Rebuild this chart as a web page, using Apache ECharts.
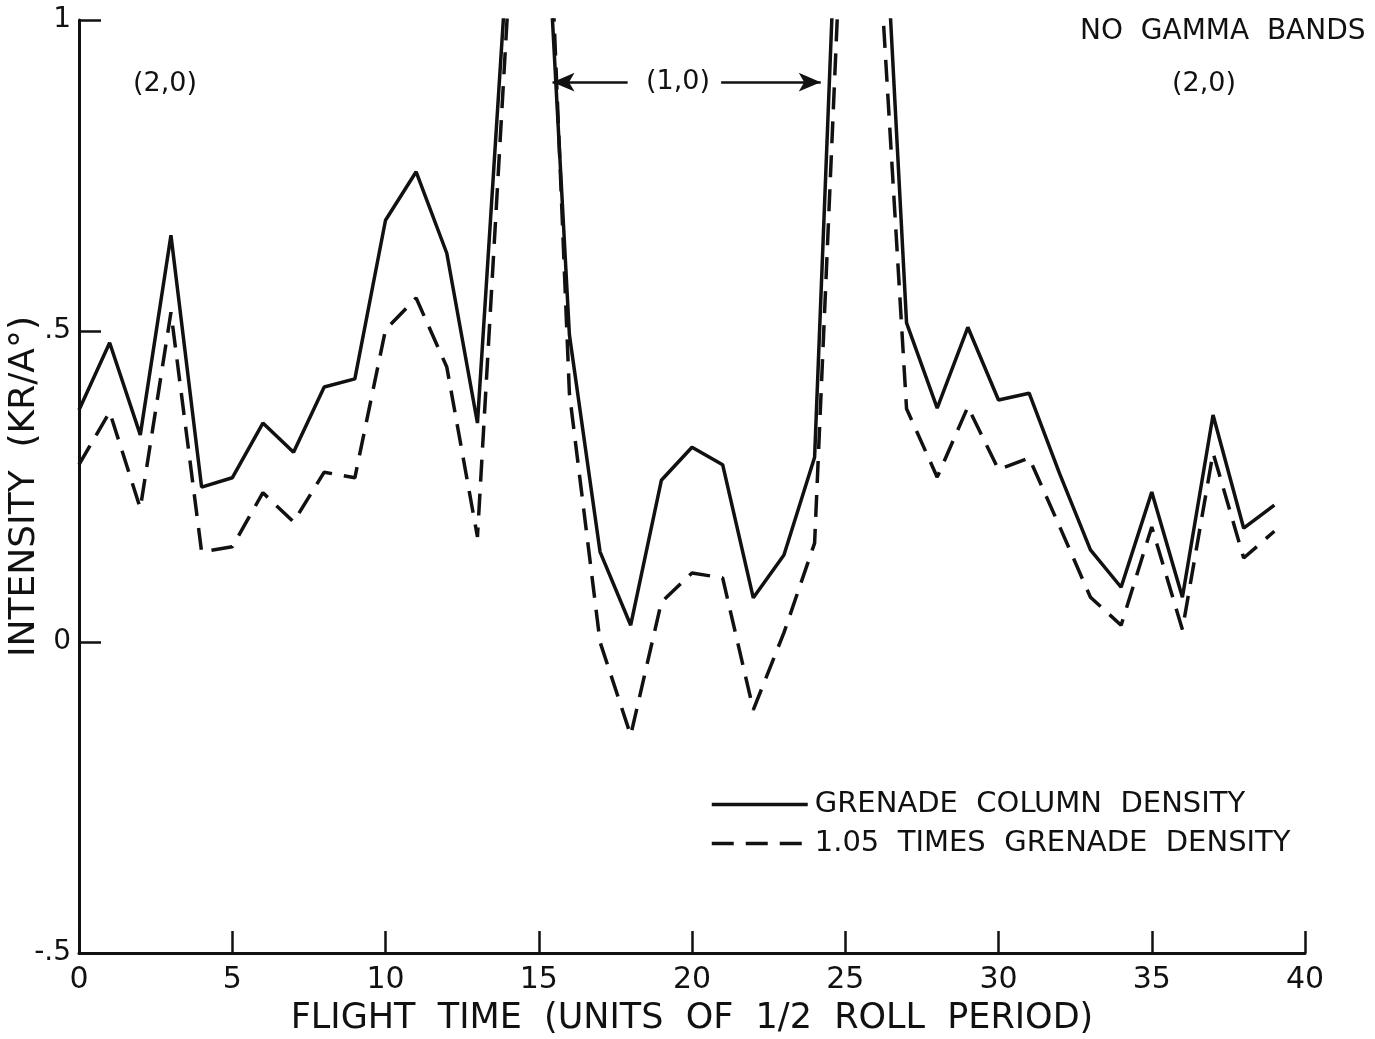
<!DOCTYPE html>
<html>
<head>
<meta charset="utf-8">
<script src="https://cdn.jsdelivr.net/npm/echarts@6/dist/echarts.min.js"></script>
<style>
html,body{margin:0;padding:0;background:#fff;}
#chart{width:1375px;height:1039px;}
</style>
</head>
<body>
<div id="chart"></div>
<script>
// flight time index (units of 1/2 roll period)
const flightTime = [0,1,2,3,4,5,6,7,8,9,10,11,12,13,14,15,16,17,18,19,20,21,22,23,24,25,26,27,28,29,30,31,32,33,34,35,36,37,38,39];
// grenade column density (solid)
const grenadeColumn = [0.373,0.481,0.333,0.654,0.249,0.264,0.352,0.305,0.41,0.423,0.678,0.756,0.625,0.352,1.12,1.41,0.494,0.145,0.027,0.26,0.313,0.285,0.071,0.14,0.297,1.55,1.45,0.513,0.376,0.506,0.389,0.4,0.27,0.148,0.088,0.241,0.072,0.365,0.183,0.22];
// 1.05 times grenade density (dashed)
const grenade105 = [0.285,0.37,0.215,0.53,0.145,0.153,0.24,0.193,0.273,0.264,0.502,0.553,0.442,0.169,1.03,1.6,0.40,0.0,-0.15,0.064,0.111,0.103,-0.109,0.015,0.159,1.3,1.2,0.375,0.265,0.378,0.277,0.296,0.185,0.072,0.027,0.185,0.02,0.304,0.135,0.178];
const yTickValues = [-0.5, 0, 0.5, 1];
const yTickLabels = ['-.5', '0', '.5', '1'];
const seriesNames = ['GRENADE  COLUMN  DENSITY', '1.05  TIMES  GRENADE  DENSITY'];

const ink = '#111';
const font = '"DejaVu Sans", "Liberation Sans", Arial, sans-serif';

const chart = echarts.init(document.getElementById('chart'));
const toPairs = arr => flightTime.map((x, i) => [x, arr[i]]);

chart.setOption({
  backgroundColor: '#fff',
  animation: false,
  grid: { left: 79, right: 70, top: 20, bottom: 86, containLabel: false, outerBoundsMode: 'none' },
  legend: {
    orient: 'vertical',
    left: 705,
    top: 783,
    itemWidth: 96,
    itemHeight: 20,
    itemGap: 6,
    data: seriesNames,
    itemStyle: { color: 'transparent', borderColor: 'transparent', borderWidth: 0, opacity: 0 },
    lineStyle: { width: 3.5 },
    textStyle: { color: ink, fontSize: 29, fontFamily: font, lineHeight: 33, padding: [0,0,0,2] }
  },
  xAxis: {
    type: 'value', min: 0, max: 40, interval: 5,
    name: 'FLIGHT  TIME  (UNITS  OF  1/2  ROLL  PERIOD)',
    nameLocation: 'middle', nameGap: 48,
    nameTextStyle: { color: ink, fontSize: 35, fontFamily: font },
    axisLine: { onZero: false, lineStyle: { color: ink, width: 3 } },
    axisTick: { inside: true, length: 22, lineStyle: { color: ink, width: 2.5 } },
    axisLabel: { color: ink, fontSize: 30, fontFamily: font, margin: 12 },
    splitLine: { show: false }
  },
  yAxis: {
    type: 'value', min: -0.5, max: 1, interval: 0.5,
    name: 'INTENSITY  (KR/A°)',
    nameLocation: 'middle', nameGap: 36, nameMoveOverlap: false,
    nameTextStyle: { color: ink, fontSize: 36, fontFamily: font },
    axisLine: { onZero: false, lineStyle: { color: ink, width: 3 } },
    axisTick: { inside: true, length: 22, lineStyle: { color: ink, width: 2.5 } },
    axisLabel: {
      color: ink, fontSize: 28, fontFamily: font, margin: 8,
      formatter: v => { const i = yTickValues.findIndex(t => Math.abs(t - v) < 1e-9); return i >= 0 ? yTickLabels[i] : ''; }
    },
    splitLine: { show: false }
  },
  series: [
    {
      name: seriesNames[0], type: 'line', data: toPairs(grenadeColumn),
      showSymbol: false, symbol: 'none', clip: true,
      lineStyle: { color: ink, width: 3.5, type: 'solid' },
      itemStyle: { color: ink },
      markLine: {
        silent: true, symbol: ['none', 'arrow'], symbolSize: [14, 22],
        lineStyle: { color: ink, width: 2.5, type: 'solid' },
        label: { show: false },
        data: [
          [{ coord: [17.9, 0.9] }, { coord: [15.45, 0.9] }],
          [{ coord: [20.95, 0.9] }, { coord: [24.2, 0.9] }]
        ]
      }
    },
    {
      name: seriesNames[1], type: 'line', data: toPairs(grenade105),
      showSymbol: false, symbol: 'none', clip: true,
      lineStyle: { color: ink, width: 3.5, type: [22, 12] },
      itemStyle: { color: ink }
    }
  ],
  graphic: [
    { type: 'text', left: 133, top: 70, style: { text: '(2,0)', fill: ink, font: '27px ' + font } },
    { type: 'text', left: 1080, top: 18, style: { text: 'NO  GAMMA  BANDS', fill: ink, font: '28px ' + font } },
    { type: 'text', left: 1172, top: 70, style: { text: '(2,0)', fill: ink, font: '27px ' + font } },
    { type: 'text', left: 646, top: 68, style: { text: '(1,0)', fill: ink, font: '27px ' + font } }
  ]
});
</script>
</body>
</html>
